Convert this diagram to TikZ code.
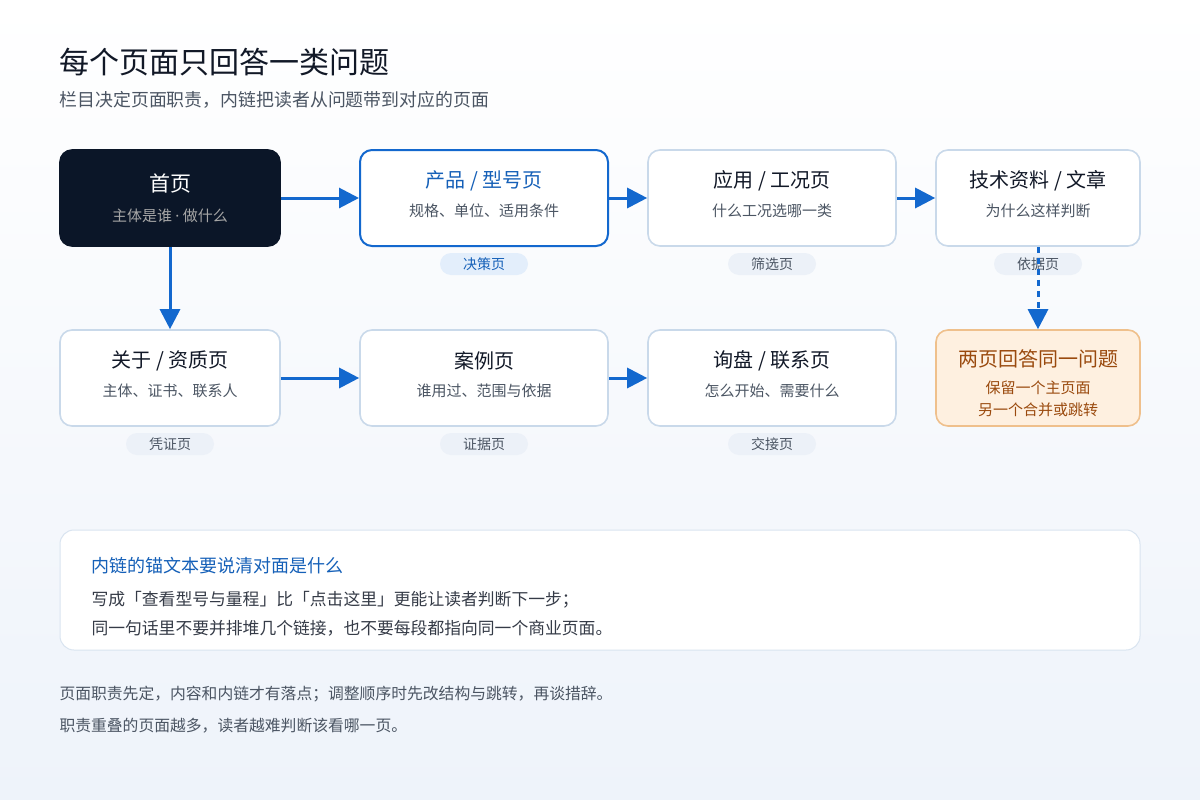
\documentclass[tikz,border=0pt]{standalone}
\usepackage{fontspec}
\setmainfont{Noto Sans CJK SC}
\newfontfamily\latinfont{Noto Sans}
\usetikzlibrary{arrows.meta}

\definecolor{inkdark}{HTML}{111827}
\definecolor{inkgray}{HTML}{4B5563}
\definecolor{navyfill}{HTML}{0B1628}
\definecolor{linkblue}{HTML}{1368CE}
\definecolor{titleblue}{HTML}{1560B8}
\definecolor{edgelight}{HTML}{C9D9EA}
\definecolor{tagblue}{HTML}{E3EEFB}
\definecolor{taggray}{HTML}{ECF1F8}
\definecolor{warmfill}{HTML}{FEF0E0}
\definecolor{warmedge}{HTML}{EFC08C}
\definecolor{warmtext}{HTML}{9A4A0E}
\definecolor{bgblue}{HTML}{EEF3FA}

\newcommand{\fsz}[1]{\fontsize{#1}{#1}\selectfont}

\begin{document}
\begin{tikzpicture}[x=1pt, y=-1pt,
		pagebox/.style={draw=edgelight, line width=1.6pt, fill=white, rounded corners=12pt, minimum width=248pt, minimum height=96pt},
		boxtitle/.style={inkdark, font=\fsz{20}},
		boxsub/.style={inkgray, font=\fsz{15}},
		tagpill/.style={fill=taggray, text=inkgray, rounded corners=11pt, minimum width=88pt, minimum height=22pt, font=\fsz{14}},
		link/.style={linkblue, line width=3pt, -{Triangle[length=20pt, width=20pt]}}]
		\useasboundingbox (0,0) rectangle (1200,800);
		\shade[top color=white, bottom color=bgblue] (0,0) rectangle (1200,800);
		% heading
		\node[anchor=west, inkdark, font=\fsz{30}] (title) at (56,62) {每个页面只回答一类问题};
		\node[anchor=west, inkgray, font=\fsz{17.9}] (subtitle) at (56,100) {栏目决定页面职责，内链把读者从问题带到对应的页面};
		% row one
		\node[pagebox, fill=navyfill, draw=navyfill, minimum width=220pt] (home) at (170,198) {};
		\node[boxtitle, white, font=\fsz{21}] (home-t) at (170,184) {首页};
		\node[boxsub, text=gray!70!white] (home-s) at (170,216) {主体是谁 {\latinfont·} 做什么};
		\node[pagebox, draw=linkblue, line width=2pt] (product) at (484,198) {};
		\node[boxtitle, titleblue] (product-t) at (484,181) {产品 / 型号页};
		\node[boxsub] (product-s) at (484,211) {规格、单位、适用条件};
		\node[pagebox] (app) at (772,198) {};
		\node[boxtitle] (app-t) at (772,181) {应用 / 工况页};
		\node[boxsub] (app-s) at (772,211) {什么工况选哪一类};
		\node[pagebox, minimum width=204pt] (tech) at (1038,198) {};
		\node[boxtitle] (tech-t) at (1038,181) {技术资料 / 文章};
		\node[boxsub] (tech-s) at (1038,211) {为什么这样判断};
		% row two
		\node[pagebox, minimum width=220pt] (about) at (170,378) {};
		\node[boxtitle] (about-t) at (170,361) {关于 / 资质页};
		\node[boxsub] (about-s) at (170,391) {主体、证书、联系人};
		\node[pagebox] (cases) at (484,378) {};
		\node[boxtitle] (cases-t) at (484,361) {案例页};
		\node[boxsub] (cases-s) at (484,391) {谁用过、范围与依据};
		\node[pagebox] (inquiry) at (772,378) {};
		\node[boxtitle] (inquiry-t) at (772,361) {询盘 / 联系页};
		\node[boxsub] (inquiry-s) at (772,391) {怎么开始、需要什么};
		\node[pagebox, minimum width=204pt, fill=warmfill, draw=warmedge] (dup) at (1038,378) {};
		\node[boxtitle, warmtext] (dup-t) at (1038,359) {两页回答同一问题};
		\node[boxsub, warmtext] (dup-s1) at (1038,388) {保留一个主页面};
		\node[boxsub, warmtext] (dup-s2) at (1038,410) {另一个合并或跳转};
		% tags
		\node[tagpill, fill=tagblue, text=titleblue] (tag-decide) at (484,264) {决策页};
		\node[tagpill] (tag-filter) at (772,264) {筛选页};
		\node[tagpill] (tag-basis) at (1038,264) {依据页};
		\node[tagpill] (tag-proof) at (170,444) {凭证页};
		\node[tagpill] (tag-evid) at (484,444) {证据页};
		\node[tagpill] (tag-hand) at (772,444) {交接页};
		% links
		\draw[link] (home) -- (product);
		\draw[link] (product) -- (app);
		\draw[link] (app) -- (tech);
		\draw[link] (home) -- (about);
		\draw[link] (about) -- (cases);
		\draw[link] (cases) -- (inquiry);
		\draw[link, dash pattern=on 6pt off 5pt] (tech) -- (dup);
		% note
		\node[draw=edgelight!70!white, line width=1pt, fill=white, rounded corners=14pt, minimum width=1080pt, minimum height=120pt] (note) at (600,590) {};
		\node[anchor=west, titleblue, font=\fsz{18}] (note-t) at (88,566) {内链的锚文本要说清对面是什么};
		\node[anchor=west, inkdark!85!white, font=\fsz{16.8}] (note-l1) at (88,600) {写成「查看型号与量程」比「点击这里」更能让读者判断下一步；};
		\node[anchor=west, inkdark!85!white, font=\fsz{16.8}] (note-l2) at (88,628) {同一句话里不要并排堆几个链接，也不要每段都指向同一个商业页面。};
		% footer
		\node[anchor=west, inkgray, font=\fsz{15.8}] (foot-1) at (56,694) {页面职责先定，内容和内链才有落点；调整顺序时先改结构与跳转，再谈措辞。};
		\node[anchor=west, inkgray, font=\fsz{15.8}] (foot-2) at (56,726) {职责重叠的页面越多，读者越难判断该看哪一页。};
	\end{tikzpicture}
\end{document}
